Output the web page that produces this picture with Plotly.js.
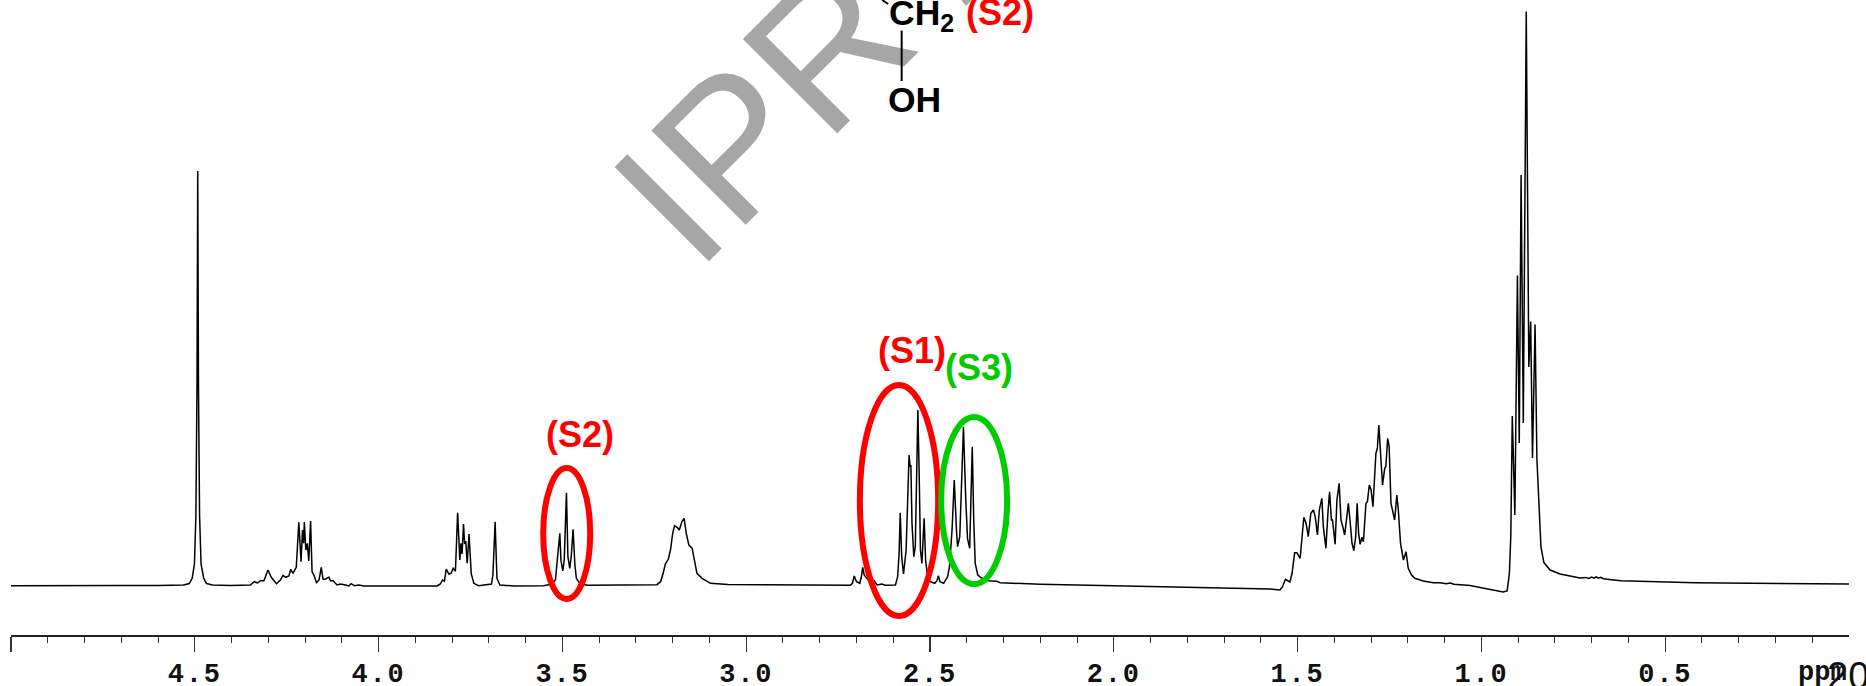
<!DOCTYPE html>
<html><head><meta charset="utf-8">
<script src="https://cdn.plot.ly/plotly-3.0.1.min.js"></script>
<style>
html,body{margin:0;padding:0;background:#fff;overflow:hidden}
#c{width:1866px;height:686px}
.xtick text{letter-spacing:1.8px}
</style></head><body><div id="c"></div>
<script>
// 1H NMR spectrum: chemical shift (ppm) and intensity (arbitrary units)
const ppm = [5.000,4.800,4.700,4.600,4.566,4.531,4.515,4.507,4.501,4.497,4.494,4.492,4.490,4.487,4.483,4.476,4.468,4.452,4.403,
4.349,4.338,4.330,4.321,4.312,4.301,4.292,4.278,4.267,4.260,4.253,4.244,4.239,4.233,4.224,4.217,4.211,4.207,4.204,4.202,4.198,4.194,4.190,4.185,4.181,4.176,4.169,4.162,4.156,4.151,4.145,4.140,4.135,4.131,4.124,4.113,4.104,4.090,4.081,4.075,4.066,4.054,4.040,
3.841,3.832,3.826,3.821,3.816,3.809,3.803,3.797,3.791,3.785,3.779,3.776,3.773,3.769,3.766,3.763,3.759,3.754,3.748,3.741,3.728,
3.693,3.689,3.686,3.683,3.680,3.678,3.670,3.632,3.551,3.528,3.519,3.514,3.507,3.504,3.499,3.495,3.489,3.485,3.480,3.476,3.471,3.466,3.462,3.453,3.433,
3.243,3.233,3.226,3.220,3.212,3.206,3.200,3.195,3.188,3.182,3.175,3.169,3.163,3.156,3.147,3.141,3.134,3.120,3.097,3.050,2.900,
2.744,2.717,2.711,2.706,2.700,2.691,2.687,2.683,2.679,2.670,2.661,2.652,2.644,2.631,2.622,2.594,2.588,2.584,2.581,2.577,2.572,2.565,2.561,2.557,2.554,2.552,2.549,2.544,2.540,2.535,2.533,2.529,2.526,2.522,2.519,2.516,2.512,2.506,2.499,2.487,2.481,2.477,2.473,2.463,2.452,2.447,2.440,2.434,2.428,2.425,2.419,2.413,2.409,2.403,2.398,2.392,2.388,2.385,2.381,2.377,2.370,2.359,2.341,2.318,2.309,2.273,2.200,2.000,1.800,
1.575,1.548,1.541,1.533,1.528,1.521,1.515,1.508,1.502,1.493,1.487,1.483,1.477,1.471,1.464,1.457,1.452,1.446,1.441,1.434,1.430,1.423,1.417,1.413,1.408,1.405,1.398,1.393,1.387,1.382,1.377,1.372,1.366,1.362,1.357,1.352,1.347,1.342,1.338,1.334,1.330,1.325,1.321,1.314,1.310,1.305,1.300,1.295,1.287,1.283,1.279,1.274,1.269,1.263,1.260,1.255,1.251,1.246,1.241,1.236,1.230,1.226,1.220,1.212,1.205,1.199,1.190,1.181,1.158,1.131,1.113,1.095,1.085,1.075,1.031,
0.941,0.930,0.924,0.920,0.917,0.916,0.909,0.902,0.897,0.892,0.886,0.878,0.871,0.866,0.861,0.854,0.849,0.843,0.838,0.830,0.813,0.786,0.732,0.716,0.708,0.700,0.694,0.688,0.682,0.676,0.668,0.640,0.620,0.420,0.000];
const intensity = [0.3,0.8,0.6,0.5,0.5,1,2.5,8,22,70,200,415,200,70,22,8,2.5,1,0.4,
1,4.3,3,5.3,5.3,16,8.7,2.3,6,10.7,8.7,10,16.7,12.7,18.7,63.7,24.3,56,42.7,64,36,42.7,25,65,14.3,11,3.3,6,18.7,6.7,6.7,8,8.7,5.3,5.3,1,2,1,0,2.3,0.3,1,0,
0,2,6,4.7,17,12,12.7,17.7,14.7,73.3,26,42.7,32,62,42,45,22.7,52,12.3,2.7,0.3,
2,11,36,64.3,29.3,7.7,1,0,0.3,2,6,22.7,52.7,26,15,26,93.3,29.3,17.7,29.3,56.7,21,7.7,2.7,0.7,
1.3,4.3,12.7,22,26.7,36,52.7,60.3,58.7,56,64.3,67.7,52.7,41,37.7,24.3,12.7,7.7,2.7,1.5,1.2,
0.7,0.7,2.7,10,4.3,2.7,8.7,18.7,11,6.7,4.3,5.3,1,2,0.7,1,9.3,32.7,73.3,29.3,12,36,82.7,131,119.3,121,62.7,29.3,39.3,116,176,102.7,36,22.7,42.7,67.7,26,7.7,4.3,2.7,5.3,10.3,4.3,2.7,9.3,19.3,56,106,56,39.3,49.3,116,159.3,89.3,47.7,37.7,82.7,139.3,66,22.7,11,7.7,5.3,4.7,3.3,2.7,1.7,0.3,-1.5,
-3,-4,-0.7,6.7,5.3,4,12.7,33.3,33.3,27.7,52.7,68.7,62.7,49.3,72.7,76,69.3,51,76,87.7,59.3,37.7,76,94.3,66,66,41.7,86,102.7,66,59.3,51,69.3,82.7,64.3,42.7,35.3,49.3,82.7,52.7,41.7,48.7,44.3,82.7,84.3,101,96,79.3,132.7,137.7,161,126,101,117.7,119.3,147.7,139.3,82.7,72.7,66,91,76,42.7,26,34.3,17.7,11,7.7,5,3.3,3.3,2.2,3,1.8,0.5,
-6,-5,12,50,127,170,71,310.5,143,411,163,574.5,219,264.5,128,261.5,127,73,39,23.4,16,12,8,8.6,7.6,9,7.8,9.2,7.8,8.6,7.2,6,5.3,3.3,2];

// Axis ticks
const majorTicks = [0.5,1.0,1.5,2.0,2.5,3.0,3.5,4.0,4.5,5.0];
const majorLabels = ['0.5','1.0','1.5','2.0','2.5','3.0','3.5','4.0','4.5',''];
const minorTicks = [0.1,0.2,0.3,0.4,0.6,0.7,0.8,0.9,1.1,1.2,1.3,1.4,1.6,1.7,1.8,1.9,2.1,2.2,2.3,2.4,2.6,2.7,2.8,2.9,3.1,3.2,3.3,3.4,3.6,3.7,3.8,3.9,4.1,4.2,4.3,4.4,4.6,4.7,4.8,4.9];

// Overlay text
const peakLabels = [
  {text:'(S2)', color:'#ff0000', px:579.5, py:434.5},
  {text:'(S1)', color:'#ff0000', px:912, py:351},
  {text:'(S3)', color:'#00cc00', px:979, py:367.5},
  {text:'(S2)', color:'#ff0000', px:1000, py:13}
];
const structureLabels = [
  {text:'CH<sub>2</sub>', px:921.5, py:15},
  {text:'OH', px:914.5, py:100}
];
const ellipses = [
  {color:'#ff0000', x0:543, x1:590, y0:468, y1:599},
  {color:'#ff0000', x0:859.7, x1:938, y0:385, y1:616},
  {color:'#00cc00', x0:941, x1:1007, y0:417, y1:584}
];

const M = {l:10.7, r:17, t:0, b:51};
const W = 1866, H = 686;
const xp = px => (px - M.l) / (W - M.l - M.r);
const yp = py => 1 - py / (H - M.t - M.b);

const ann = [];
const push = (text, px, py, font, extra) => ann.push(Object.assign({text, x:xp(px), y:yp(py), xref:'paper', yref:'paper', xanchor:'center', yanchor:'middle', showarrow:false, font}, extra||{}));

push('IPR', 762, 112, {family:'Liberation Sans, Arial, sans-serif', size:194, color:'#a6a6a6'}, {textangle:-45});
peakLabels.forEach(l => push(l.text, l.px, l.py, {family:'Liberation Sans, Arial, sans-serif', size:36, color:l.color, weight:'bold'}));
structureLabels.forEach(l => push(l.text, l.px, l.py, {family:'Liberation Sans, Arial, sans-serif', size:35.5, color:'#000', weight:'bold'}));
// bond drawn above the watermark
ann.push({text:'\u00a0', font:{size:1}, x:xp(901.5), y:yp(81), xref:'paper', yref:'paper', showarrow:true, arrowhead:0, arrowwidth:2, arrowcolor:'#000', ax:0, ay:-52.5, standoff:0, startstandoff:0});
push('ppm', 1822, 673, {family:'Liberation Mono, monospace', size:27, color:'#111', weight:'bold'});
push('20', 1848, 676, {family:'Liberation Sans, sans-serif', size:38, color:'#111'});

const shapes = ellipses.map(e => ({type:'circle', xref:'paper', yref:'paper', x0:xp(e.x0), x1:xp(e.x1), y0:yp(e.y0), y1:yp(e.y1), line:{color:e.color, width:6}, layer:'above'}));
shapes.push({type:'path', xref:'paper', yref:'paper', layer:'below', line:{width:0}, fillcolor:'#a6a6a6',
  path:`M ${xp(961)} ${yp(0)} L ${xp(971)} ${yp(0)} L ${xp(966)} ${yp(6)} Z`});
shapes.push({type:'line', xref:'paper', yref:'paper', layer:'above', line:{color:'#000', width:2}, x0:xp(882), y0:yp(0), x1:xp(888), y1:yp(4)});

const trace = {x:ppm, y:intensity, type:'scatter', mode:'lines', line:{color:'#000', width:1.5, shape:'linear'}, hoverinfo:'skip', cliponaxis:false};

const layout = {
  width:W, height:H, margin:M, paper_bgcolor:'#fff', plot_bgcolor:'rgba(0,0,0,0)', showlegend:false,
  xaxis:{range:[5,0], showgrid:false, zeroline:false, showline:true, linecolor:'#222', linewidth:1.5,
    ticks:'outside', ticklen:15, tickwidth:1.2, tickcolor:'#333', tickmode:'array', tickvals:majorTicks, ticktext:majorLabels,
    ticklabelstandoff:-2,
    tickfont:{family:'Liberation Mono, monospace', size:27, color:'#111', weight:'bold'},
    minor:{tickmode:'array', tickvals:minorTicks, ticks:'outside', ticklen:6, tickwidth:1, tickcolor:'#333', showgrid:false}},
  yaxis:{range:[-49,586], visible:false, fixedrange:true},
  shapes, annotations:ann
};
Plotly.newPlot('c',[trace],layout,{staticPlot:true,displayModeBar:false});
</script></body></html>
